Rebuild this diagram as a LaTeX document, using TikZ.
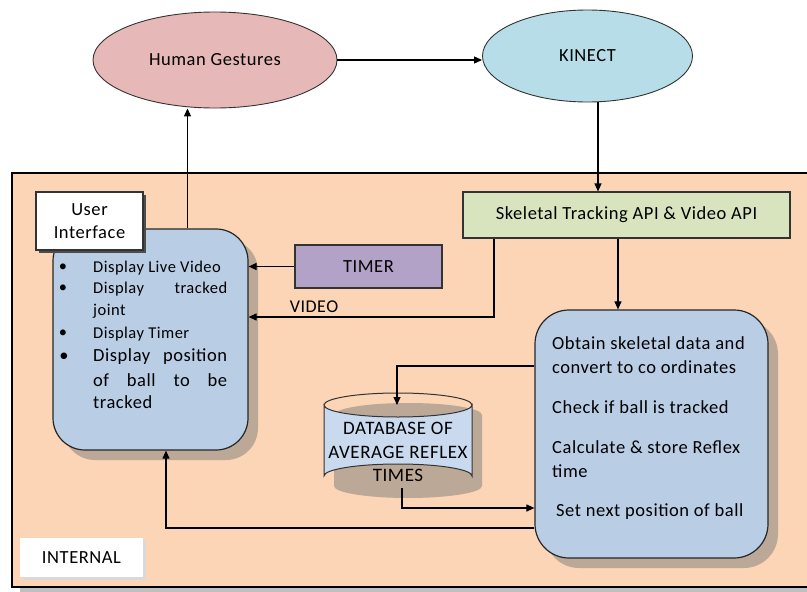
\documentclass[tikz,border=0pt]{standalone}
\usepackage{fontspec}
\setmainfont{Carlito}[LetterSpace=3.0]
\usetikzlibrary{shapes.geometric,arrows.meta}
\definecolor{peach}{HTML}{FBD5B5}
\definecolor{hgpink}{HTML}{E6B9B8}
\definecolor{kinblue}{HTML}{B7DEE8}
\definecolor{skelgreen}{HTML}{D7E4BD}
\definecolor{timerpurple}{HTML}{B3A2C7}
\definecolor{boxblue}{HTML}{B9CDE5}
\definecolor{dbblue}{HTML}{C9DAEF}
\definecolor{boxshadow}{HTML}{BCA897}
\definecolor{outershadow}{HTML}{C0C0C0}
\begin{document}
\begin{tikzpicture}[x=1pt,y=-1pt,
  arr/.style={-{Triangle[length=8pt,width=7pt]}, line width=1.1pt},
  oval/.style={ellipse, draw=black!80, line width=0.9pt, inner sep=0pt},
  plainbox/.style={rectangle, draw=black!80, line width=1.1pt, inner sep=0pt},
  bluebox/.style={rectangle, draw=black!85, line width=1.2pt, fill=boxblue, rounded corners=32pt, inner sep=0pt},
  txt/.style={font=\fontsize{18.5}{22}\selectfont, inner sep=0pt},
  small/.style={font=\fontsize{16.5}{19}\selectfont, inner sep=0pt},
]
\useasboundingbox (0,0) rectangle (807,592);
\fill[white] (0,0) rectangle (807,592);

% outer INTERNAL region
\fill[outershadow] (20,587) rectangle (807,592);
\fill[peach] (12,173) rectangle (807,587);
\draw[line width=1.1pt] (807,173) -- (12,173) -- (12,587) -- (807,587);

% top ellipses
\node[oval, fill=hgpink, minimum width=244pt, minimum height=96pt, txt] (hg) at (215,60) {Human Gestures};
\node[oval, fill=kinblue, minimum width=210pt, minimum height=92pt, txt] (kin) at (587.5,56) {KINECT};

% skeletal API box
\node[plainbox, fill=skelgreen, minimum width=327pt, minimum height=46pt, font=\fontsize{18.5}{22}\selectfont] (skel) at (626.5,215) {Skeletal Tracking API \& Video API};

% timer
\node[plainbox, fill=timerpurple, minimum width=147pt, minimum height=43pt, font=\fontsize{18.5}{22}\selectfont] (timer) at (368.5,266.5) {TIMER};

% UI box with shadow
\fill[boxshadow, rounded corners=32pt] (63,239) rectangle (258,460);
\node[bluebox, minimum width=195pt, minimum height=221pt] (ui) at (150.5,339.5) {};

% User Interface label
\fill[black!70] (39,195) rectangle (146,253);
\node[plainbox, fill=white, minimum width=107pt, minimum height=58pt, align=center, font=\fontsize{18.5}{23}\selectfont] (uilabel) at (89.5,221) {User\\Interface};

% UI bullet text
\node[small] (b1) at (63,268) {\textbullet};
\node[small, anchor=west] (t1) at (93,268) {Display Live Video};
\node[small] (b2) at (63,289) {\textbullet};
\node[small, anchor=west] (t2) at (93,289) {\hbox to 134pt{Display\hfill tracked}};
\node[small, anchor=west] (t3) at (93,311) {joint};
\node[small] (b3) at (63,334) {\textbullet};
\node[small, anchor=west] (t4) at (93,334) {Display Timer};
\node[txt] (b4) at (64,357) {\textbullet};
\node[txt, anchor=west] (t5) at (93,357) {\hbox to 134pt{Display\hfill position}};
\node[txt, anchor=west] (t6) at (93,380) {\hbox to 134pt{of\hfill ball\hfill to\hfill be}};
\node[txt, anchor=west] (t7) at (93,402) {tracked};

% process box with shadow
\fill[boxshadow, rounded corners=34pt] (545,320) rectangle (778,568);
\node[bluebox, rounded corners=34pt, minimum width=233pt, minimum height=248pt] (proc) at (651.5,434) {};
\node[txt, anchor=west] (p1) at (552,343) {Obtain skeletal data and};
\node[txt, anchor=west] (p2) at (552,367) {convert to co ordinates};
\node[txt, anchor=west] (p3) at (552,407) {Check if ball is tracked};
\node[txt, anchor=west] (p4) at (552,447) {Calculate \& store Reflex};
\node[txt, anchor=west] (p5) at (552,471) {time};
\node[txt, anchor=west] (p6) at (556,512) {Set next position of ball};

% database cylinder
\fill[boxshadow] (334,415) -- (334,486) arc[start angle=180, end angle=360, x radius=74pt, y radius=12pt] -- (482,415) arc[start angle=0, end angle=180, x radius=74pt, y radius=12pt] -- cycle;
\filldraw[fill=dbblue, draw=black!80, line width=1pt] (324,405) -- (324,476) arc[start angle=180, end angle=360, x radius=74pt, y radius=-12pt] -- (472,405) arc[start angle=0, end angle=180, x radius=74pt, y radius=-12pt] -- cycle;
\draw[black!80, line width=1pt] (324,405) arc[start angle=180, end angle=360, x radius=74pt, y radius=-12pt];
\node[align=center, inner sep=0pt, minimum width=148pt, minimum height=95pt, font=\fontsize{19}{23.5}\selectfont] (db) at (398,452) {DATABASE OF\\AVERAGE REFLEX\\TIMES};
\coordinate (dbtop) at (397,405);
\coordinate (dbbot) at (402,488);

% INTERNAL label
\fill[black!15] (23,541) rectangle (146,580);
\node[rectangle, fill=white, minimum width=123pt, minimum height=39pt, inner sep=0pt, font=\fontsize{18.5}{22}\selectfont] (internal) at (81.5,557.5) {INTERNAL};

% connectors
\draw[arr] (hg.east) -- (kin.west |- hg.east);
\draw[arr] ([xshift=10.5pt]kin.south) -- ([xshift=10.5pt]kin.south |- skel.north);
\draw[arr] ([xshift=37pt]ui.north) -- ([xshift=37pt]ui.north |- hg.south);
\draw[arr] (timer.west) -- (timer.west -| ui.east);
\coordinate (vidturn) at (494,317);
\draw[arr] (skel.south -| vidturn) -- (vidturn) -- (vidturn -| ui.east);
\node[font=\fontsize{18}{21}\selectfont, inner sep=0pt] (vidlabel) at (314,307) {VIDEO};
\draw[arr] ([xshift=-8.5pt]skel.south) -- ([xshift=-8.5pt]skel.south |- proc.north);
\draw[arr] (proc.west |- 0,366) -| (dbtop);
\draw[arr] (dbbot) |- (proc.west |- 0,508);
\draw[arr] (proc.west |- 0,528) -| ([xshift=15.5pt]ui.south);
\end{tikzpicture}
\end{document}
